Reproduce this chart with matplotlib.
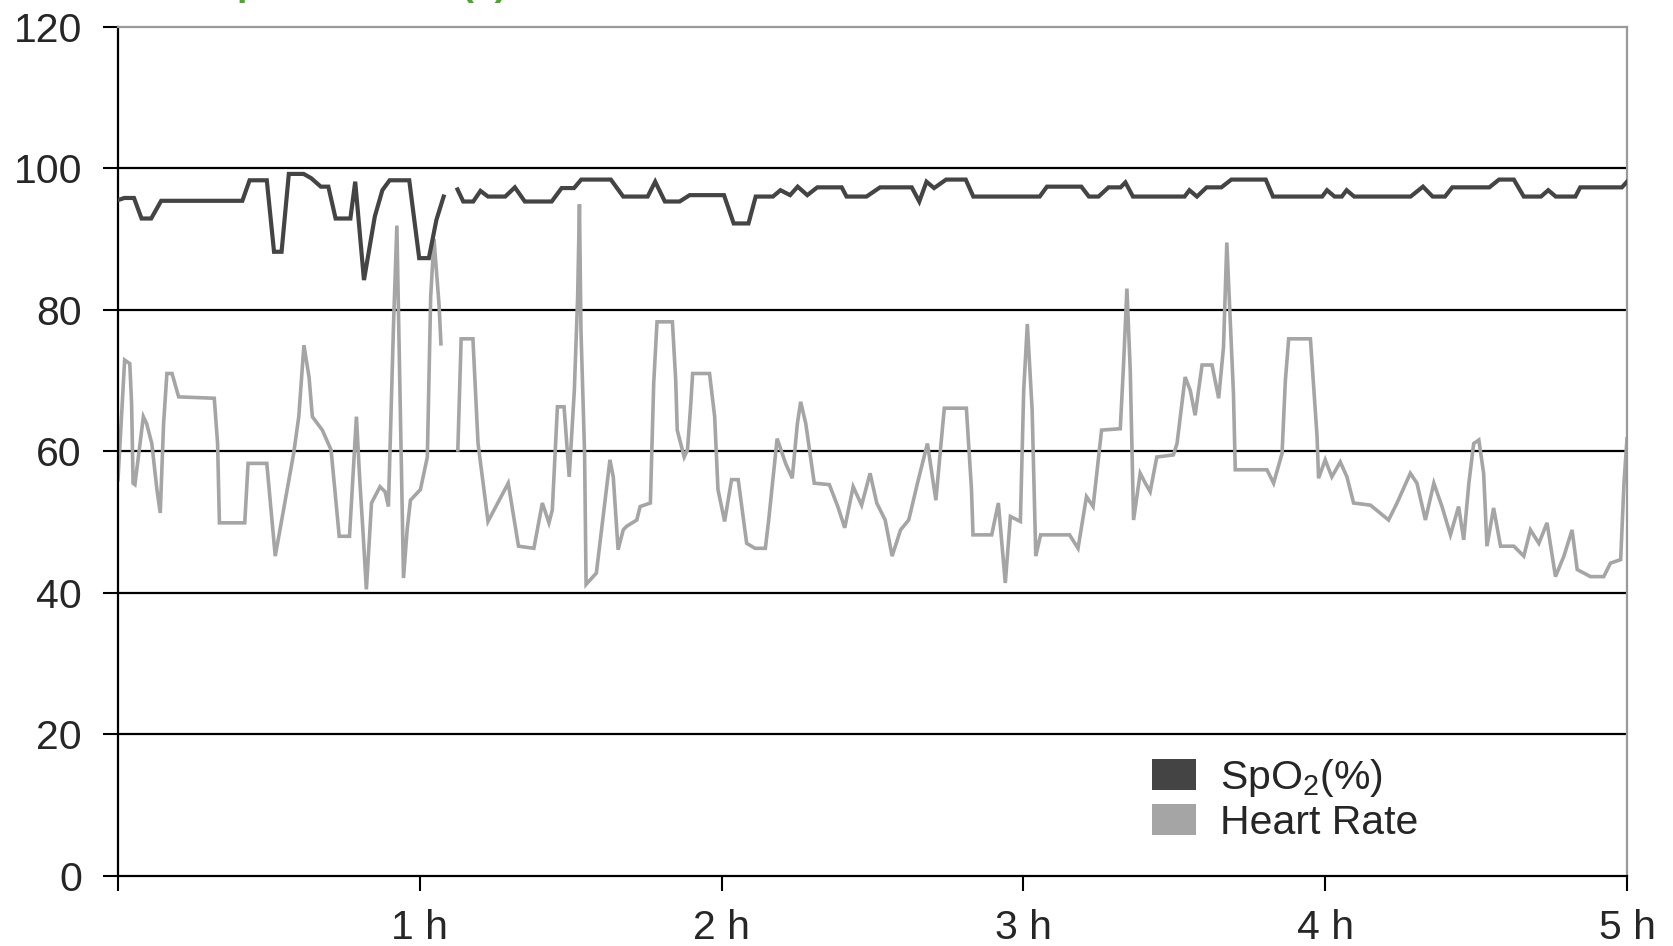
import numpy as np
import matplotlib
matplotlib.use("Agg")
import matplotlib.pyplot as plt
from matplotlib.patches import Patch

plt.rcParams["font.family"] = ["Liberation Sans", "DejaVu Sans"]
plt.rcParams["mathtext.fontset"] = "custom"
plt.rcParams["mathtext.rm"] = "Liberation Sans"

# time in hours
spo2_t1 = [0.000, 0.021, 0.053, 0.078, 0.110, 0.143, 0.412, 0.436, 0.493, 0.517,
           0.542, 0.566, 0.615, 0.640, 0.672, 0.697, 0.721, 0.770, 0.786, 0.815,
           0.851, 0.876, 0.900, 0.965, 0.998, 1.030, 1.055, 1.079]
spo2_v1 = [95.5, 95.8, 95.8, 92.9, 92.9, 95.4, 95.4, 98.3, 98.3, 88.2,
           88.2, 99.2, 99.2, 98.6, 97.4, 97.4, 92.9, 92.9, 98.1, 84.2,
           93.2, 96.9, 98.3, 98.3, 87.3, 87.3, 92.7, 96.0]

spo2_t2 = [1.125, 1.144, 1.177, 1.201, 1.226, 1.283, 1.315, 1.348, 1.437, 1.470,
           1.511, 1.535, 1.633, 1.674, 1.755, 1.780, 1.812, 1.861, 1.894, 2.008,
           2.040, 2.089, 2.113, 2.170, 2.195, 2.227, 2.252, 2.284, 2.317, 2.398,
           2.414, 2.480, 2.525, 2.630, 2.655, 2.679, 2.704, 2.744, 2.809, 2.834,
           3.054, 3.078, 3.192, 3.217, 3.249, 3.282, 3.322, 3.338, 3.363, 3.534,
           3.550, 3.575, 3.607, 3.656, 3.689, 3.803, 3.827, 3.990, 4.006, 4.031,
           4.055, 4.071, 4.096, 4.283, 4.324, 4.356, 4.397, 4.421, 4.544, 4.576,
           4.625, 4.658, 4.715, 4.739, 4.764, 4.829, 4.845, 4.983, 5.000]
spo2_v2 = [97.0, 95.3, 95.3, 96.8, 96.0, 96.0, 97.3, 95.3, 95.3, 97.2,
           97.2, 98.4, 98.4, 96.0, 96.0, 98.1, 95.3, 95.3, 96.2, 96.2,
           92.2, 92.2, 96.0, 96.0, 96.9, 96.2, 97.4, 96.2, 97.3, 97.3,
           96.0, 96.0, 97.3, 97.3, 95.3, 98.1, 97.2, 98.4, 98.4, 96.0,
           96.0, 97.4, 97.4, 96.0, 96.0, 97.3, 97.3, 98.0, 96.0, 96.0,
           96.9, 96.0, 97.3, 97.3, 98.4, 98.4, 96.0, 96.0, 96.9, 96.0,
           96.0, 96.9, 96.0, 96.0, 97.4, 96.0, 96.0, 97.3, 97.3, 98.4,
           98.4, 96.0, 96.0, 96.9, 96.0, 96.0, 97.3, 97.3, 98.1]

hr_t1 = [0.000, 0.022, 0.039, 0.045, 0.050, 0.056, 0.073, 0.084, 0.095, 0.112,
         0.129, 0.140, 0.151, 0.162, 0.179, 0.201, 0.319, 0.330, 0.336, 0.420,
         0.431, 0.493, 0.521, 0.582, 0.599, 0.616, 0.633, 0.644, 0.677, 0.706,
         0.733, 0.767, 0.790, 0.801, 0.812, 0.823, 0.840, 0.868, 0.885, 0.896,
         0.913, 0.924, 0.935, 0.946, 0.958, 0.969, 1.002, 1.025, 1.036, 1.047,
         1.064, 1.070]
hr_v1 = [56.0, 72.9, 72.4, 66.8, 55.5, 55.3, 61.1, 64.9, 63.9, 61.1,
         54.6, 51.3, 63.9, 71.0, 71.0, 67.7, 67.5, 61.1, 49.9, 49.9,
         58.3, 58.3, 45.2, 59.7, 64.9, 75.0, 70.5, 64.9, 63.0, 60.2,
         48.0, 48.0, 64.9, 56.0, 48.5, 40.5, 52.7, 55.0, 54.3, 52.2,
         78.0, 91.9, 66.8, 42.1, 48.9, 53.1, 54.6, 59.2, 81.8, 90.0,
         80.6, 75.2]

hr_t2 = [1.126, 1.137, 1.176, 1.193, 1.226, 1.293, 1.327, 1.378, 1.406, 1.428,
         1.439, 1.456, 1.478, 1.495, 1.512, 1.523, 1.529, 1.534, 1.546, 1.551,
         1.585, 1.630, 1.641, 1.657, 1.674, 1.685, 1.719, 1.730, 1.764, 1.775,
         1.786, 1.837, 1.848, 1.853, 1.876, 1.887, 1.898, 1.904, 1.960, 1.977,
         1.988, 2.010, 2.033, 2.055, 2.083, 2.111, 2.145, 2.156, 2.184, 2.212,
         2.234, 2.251, 2.262, 2.279, 2.307, 2.357, 2.385, 2.408, 2.436, 2.464,
         2.492, 2.514, 2.542, 2.565, 2.593, 2.620, 2.649, 2.682, 2.710, 2.727,
         2.738, 2.811, 2.828, 2.833, 2.895, 2.917, 2.940, 2.957, 2.990, 3.001,
         3.013, 3.029, 3.041, 3.057, 3.153, 3.181, 3.209, 3.231, 3.259, 3.321,
         3.332, 3.343, 3.354, 3.365, 3.387, 3.404, 3.420, 3.442, 3.497, 3.509,
         3.536, 3.553, 3.569, 3.592, 3.625, 3.647, 3.663, 3.674, 3.685, 3.696,
         3.702, 3.807, 3.829, 3.857, 3.868, 3.879, 3.951, 3.962, 3.973, 3.978,
         4.000, 4.022, 4.050, 4.072, 4.094, 4.150, 4.210, 4.238, 4.282, 4.304,
         4.332, 4.360, 4.387, 4.415, 4.442, 4.459, 4.476, 4.492, 4.509, 4.525,
         4.536, 4.558, 4.581, 4.625, 4.658, 4.680, 4.708, 4.735, 4.763, 4.791,
         4.818, 4.835, 4.879, 4.923, 4.945, 4.979, 4.990, 5.000]
hr_v2 = [60.2, 75.9, 75.9, 61.1, 50.1, 55.5, 46.6, 46.3, 52.7, 49.9,
         51.7, 66.3, 66.3, 56.4, 68.6, 81.8, 94.9, 77.1, 59.7, 41.2,
         42.8, 58.8, 56.4, 46.1, 48.9, 49.4, 50.3, 52.2, 52.7, 69.6,
         78.3, 78.3, 70.0, 63.0, 59.2, 60.2, 66.8, 71.0, 71.0, 64.9,
         54.6, 50.1, 56.0, 56.0, 47.0, 46.3, 46.3, 50.3, 61.8, 58.3,
         56.2, 63.9, 67.0, 63.9, 55.5, 55.3, 52.2, 49.2, 55.0, 52.4,
         56.9, 52.7, 50.3, 45.2, 48.9, 50.3, 55.5, 61.1, 53.1, 61.1,
         66.1, 66.1, 54.6, 48.2, 48.2, 52.7, 41.4, 50.8, 50.1, 68.6,
         78.0, 65.8, 45.2, 48.2, 48.2, 46.3, 53.6, 52.2, 63.0, 63.2,
         72.4, 83.0, 71.5, 50.3, 56.9, 55.5, 54.3, 59.2, 59.5, 61.1,
         70.5, 68.6, 65.1, 72.2, 72.2, 67.5, 74.7, 89.5, 79.0, 68.2,
         57.4, 57.4, 55.5, 59.7, 70.0, 75.9, 75.9, 69.1, 62.1, 56.2,
         58.8, 56.4, 58.5, 56.4, 52.7, 52.4, 50.3, 52.7, 56.9, 55.5,
         50.3, 55.5, 52.2, 48.2, 52.2, 47.5, 55.5, 61.1, 61.6, 56.9,
         46.6, 52.0, 46.6, 46.6, 45.2, 48.9, 47.0, 49.9, 42.3, 45.2,
         48.9, 43.3, 42.3, 42.3, 44.2, 44.7, 55.5, 61.8]

y_ticks = [0, 20, 40, 60, 80, 100, 120]
x_ticks = [0, 1, 2, 3, 4, 5]
x_labels = ["", "1 h", "2 h", "3 h", "4 h", "5 h"]
series_names = ["SpO$_\\mathregular{2}$(%)", "Heart Rate"]

SPO2_COLOR = "#444444"
HR_COLOR = "#a5a5a5"
TEXT_COLOR = "#262626"

fig = plt.figure(figsize=(16.73, 9.46), dpi=100)
ax = fig.add_axes([118 / 1673, 70 / 946, 1509 / 1673, 849.3 / 946])

# horizontal grid lines between the end values
for yv in y_ticks[1:-1]:
    ax.axhline(yv, color="black", lw=1.6, zorder=1)

ax.plot(hr_t1, hr_v1, color=HR_COLOR, lw=2.6, zorder=2, solid_joinstyle="miter")
ax.plot(hr_t2, hr_v2, color=HR_COLOR, lw=2.6, zorder=2, solid_joinstyle="miter")
ax.plot(spo2_t1, spo2_v1, color=SPO2_COLOR, lw=3.0, zorder=3, solid_joinstyle="miter")
ax.plot(spo2_t2, spo2_v2, color=SPO2_COLOR, lw=3.0, zorder=3, solid_joinstyle="miter")

ax.set_xlim(0, 5)
ax.set_ylim(0, 120)
ax.set_yticks(y_ticks)
ax.set_xticks(x_ticks)
ax.set_xticklabels(x_labels)

for side in ["left", "bottom"]:
    ax.spines[side].set_color("black")
    ax.spines[side].set_linewidth(1.6)
for side in ["top", "right"]:
    ax.spines[side].set_color("#9a9a9a")
    ax.spines[side].set_linewidth(1.6)

ax.tick_params(axis="y", direction="out", length=11, width=1.5, pad=15,
               labelsize=29.5, labelcolor=TEXT_COLOR)
ax.tick_params(axis="x", direction="out", length=11, width=1.5, pad=13,
               labelsize=29.5, labelcolor=TEXT_COLOR)

handles = [Patch(facecolor=SPO2_COLOR, edgecolor="none"),
           Patch(facecolor=HR_COLOR, edgecolor="none")]
leg = fig.legend(handles, series_names, loc="upper left",
                 bbox_to_anchor=(1152 / 1673, 1 - 757 / 946),
                 frameon=False, fontsize=29.5, borderpad=0, borderaxespad=0,
                 handlelength=1.07, handleheight=0.8, handletextpad=0.6,
                 labelspacing=0.12)
for t in leg.get_texts():
    t.set_color(TEXT_COLOR)

# title above the picture, cut off by the top edge in the reference
fig.text(212 / 1673, 1 + 5 / 946, "SpO2 and HR (a)", color="#4aa82a",
         fontsize=27, fontweight="bold", va="baseline", ha="left")

fig.savefig("out.png", dpi=100)
